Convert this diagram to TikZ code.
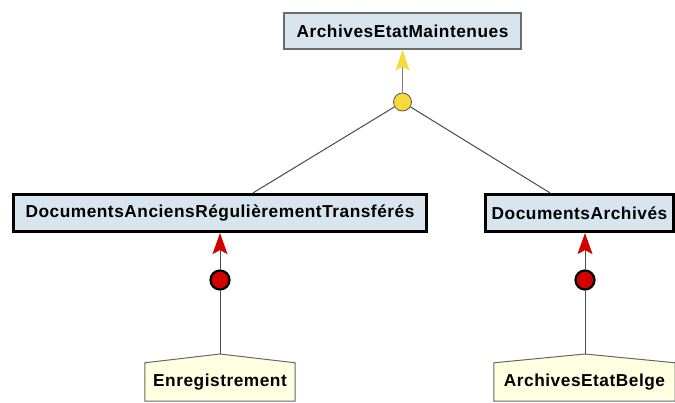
\documentclass[tikz,border=0pt]{standalone}
\usepackage{fontspec}
\setmainfont{Liberation Sans}[LetterSpace=3]
\usetikzlibrary{arrows.meta}
\definecolor{boxblue}{HTML}{D8E5EF}
\definecolor{cream}{HTML}{FFFFE2}
\definecolor{ylw}{HTML}{F6D93A}
\definecolor{redc}{HTML}{D40000}
\definecolor{linegray}{HTML}{4A4A4A}
\tikzset{
  lbl/.style={font=\fontsize{17.3}{19}\selectfont\bfseries, text=black, inner sep=0pt},
  topbox/.style={lbl, draw=gray!85!black, line width=1.3pt, fill=boxblue, minimum height=36pt},
  thickbox/.style={lbl, draw=black, line width=3.2pt, fill=boxblue, minimum height=37pt},
  basebox/.style={lbl, minimum height=38pt},
  ycirc/.style={circle, draw=gray!70!black, line width=0.8pt, fill=ylw, minimum size=18pt, inner sep=0pt},
  rcirc/.style={circle, draw=black, line width=2.2pt, fill=redc, minimum size=19pt, inner sep=0pt},
  conn/.style={draw=linegray, line width=1pt},
  yarrow/.style={conn, draw=gray, -{Stealth[length=21pt, width=14pt, inset=4pt, fill=ylw, color=ylw]}},
  rarrow/.style={conn, draw=gray!60!black, -{Stealth[length=21pt, width=15pt, inset=4pt, fill=redc, color=redc]}},
  pent/.style={draw=gray!80!black, line width=1pt, fill=cream}
}
\begin{document}
\begin{tikzpicture}[x=1pt, y=-1pt]
\useasboundingbox (0,0) rectangle (675,403);
\clip (0,0) rectangle (675,403);

% boxes
\node[topbox, minimum width=237pt] (top) at (402.5,31) {ArchivesEtatMaintenues};
\node[thickbox, minimum width=413pt] (lb) at (220,213) {DocumentsAnciensRégulièrementTransférés};
\node[thickbox, minimum width=188pt] (rb) at (579.5,213) {DocumentsArchivés};

% bottom classes
\node[basebox, minimum width=150pt] (en) at (220,382) {};
\coordinate (enpeak) at (220,354);
\draw[pent] (en.south west) -- (en.north west) -- (enpeak) -- (en.north east) -- (en.south east) -- cycle;
\node[lbl] (entxt) at (en.center) {Enregistrement};

\node[basebox, minimum width=181pt] (ab) at (584.5,382) {};
\coordinate (abpeak) at (585,354);
\draw[pent] (ab.south west) -- (ab.north west) -- (abpeak) -- (ab.north east) -- (ab.south east) -- cycle;
\node[lbl] (abtxt) at (ab.center) {ArchivesEtatBelge};

% circles
\node[ycirc] (yc) at (402.5,102) {};
\node[rcirc] (rc1) at (220,280) {};
\node[rcirc] (rc2) at (585,280) {};

% connectors
\draw[conn] (yc) -- ([xshift=33pt]lb.north);
\draw[conn] (yc) -- ([xshift=-29.5pt]rb.north);
\draw[yarrow] (yc) -- (top.south);

\draw[conn, draw=gray!60!black] (rc1) -- (enpeak);
\draw[conn, draw=gray!60!black] (rc2) -- (abpeak);
\draw[rarrow] (rc1) -- (lb.south);
\draw[rarrow] (rc2) -- ([xshift=5.5pt]rb.south);
\end{tikzpicture}
\end{document}
